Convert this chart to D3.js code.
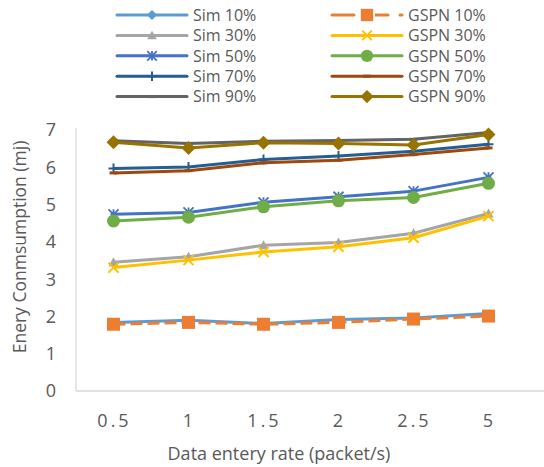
<!doctype html>
<html>
<head>
<meta charset="utf-8">
<script src="https://d3js.org/d3.v7.min.js"></script>
<style>
  body { margin: 0; background: #fff; }
  text { font-family: "Open Sans", "Liberation Sans", sans-serif; fill: #595959; }
</style>
</head>
<body>
<div id="chart"></div>
<script>
// data
var rates = ["0.5", "1", "1.5", "2", "2.5", "5"];
var seriesNames = ["Sim 10%", "GSPN 10%", "Sim 30%", "GSPN 30%", "Sim 50%", "GSPN 50%", "Sim 70%", "GSPN 70%", "Sim 90%", "GSPN 90%"];
var sim10  = [1.84, 1.90, 1.81, 1.92, 1.96, 2.08];
var gspn10 = [1.79, 1.84, 1.79, 1.84, 1.93, 2.01];
var sim30  = [3.45, 3.60, 3.91, 3.98, 4.23, 4.76];
var gspn30 = [3.31, 3.51, 3.73, 3.87, 4.11, 4.69];
var sim50  = [4.74, 4.79, 5.06, 5.21, 5.36, 5.73];
var gspn50 = [4.56, 4.66, 4.94, 5.10, 5.19, 5.57];
var sim70  = [5.97, 6.01, 6.21, 6.30, 6.43, 6.62];
var gspn70 = [5.85, 5.91, 6.12, 6.19, 6.34, 6.52];
var sim90  = [6.71, 6.64, 6.70, 6.72, 6.75, 6.93];
var gspn90 = [6.67, 6.52, 6.66, 6.64, 6.60, 6.88];
var yTicks = [0, 1, 2, 3, 4, 5, 6, 7];

var series = [
  {name: seriesNames[0], values: sim10,  color: "#5B9BD5", marker: "diamond", size: 5},
  {name: seriesNames[1], values: gspn10, color: "#ED7D31", marker: "square", size: 13, dash: "12,5"},
  {name: seriesNames[2], values: sim30,  color: "#A5A5A5", marker: "triangle", size: 10},
  {name: seriesNames[3], values: gspn30, color: "#FFC000", marker: "x", size: 10},
  {name: seriesNames[4], values: sim50,  color: "#4472C4", marker: "star", size: 10},
  {name: seriesNames[5], values: gspn50, color: "#70AD47", marker: "circle", size: 13},
  {name: seriesNames[6], values: sim70,  color: "#255E91", marker: "plus", size: 10},
  {name: seriesNames[7], values: gspn70, color: "#9E480E", marker: "dash", size: 8},
  {name: seriesNames[8], values: sim90,  color: "#636363", marker: "dash", size: 8},
  {name: seriesNames[9], values: gspn90, color: "#997300", marker: "diamond", size: 14}
];

var W = 544, H = 467;
var svg = d3.select("#chart").append("svg").attr("width", W).attr("height", H);

var x = d3.scaleBand().domain(rates).range([76, 526]);
var y = d3.scaleLinear().domain([0, 7]).range([391, 130]);
function cx(d, i) { return x(rates[i]) + x.bandwidth() / 2; }

// plot frame
svg.append("line").attr("x1", 76).attr("x2", 76).attr("y1", 128).attr("y2", 391)
  .attr("stroke", "#d9d9d9").attr("stroke-width", 1.3);
svg.append("line").attr("x1", 76).attr("x2", 544).attr("y1", 391).attr("y2", 391)
  .attr("stroke", "#d9d9d9").attr("stroke-width", 1.3);

// y ticks
svg.append("g").selectAll("text").data(yTicks).enter().append("text")
  .attr("x", 56).attr("y", function(d) { return y(d); }).attr("dy", "0.36em")
  .attr("text-anchor", "end").style("font-size", "18px").text(function(d) { return d; });

// x ticks
svg.append("g").selectAll("text").data(rates).enter().append("text")
  .attr("x", function(d) { return x(d) + x.bandwidth() / 2 + 1; }).attr("y", 427)
  .attr("text-anchor", "middle").style("font-size", "18px").style("letter-spacing", "3px")
  .text(function(d) { return d; });

// axis titles
svg.append("text").attr("x", 279).attr("y", 460).attr("text-anchor", "middle")
  .style("font-size", "18px").text("Data entery rate (packet/s)");
svg.append("text").attr("transform", "translate(26,247) rotate(-90)").attr("text-anchor", "middle")
  .style("font-size", "17.5px").text("Enery Conmsumption (mj)");

function drawMarker(g, s, px, py, scale) {
  var r = s.size / 2 * (scale || 1);
  if (s.marker === "diamond") {
    g.append("path").attr("d", "M" + px + "," + (py - r) + "L" + (px + r) + "," + py + "L" + px + "," + (py + r) + "L" + (px - r) + "," + py + "Z")
      .attr("fill", s.color);
  } else if (s.marker === "square") {
    g.append("rect").attr("x", px - r).attr("y", py - r).attr("width", 2 * r).attr("height", 2 * r).attr("fill", s.color);
  } else if (s.marker === "triangle") {
    g.append("path").attr("d", "M" + px + "," + (py - r) + "L" + (px + r) + "," + (py + r * 0.8) + "L" + (px - r) + "," + (py + r * 0.8) + "Z")
      .attr("fill", s.color);
  } else if (s.marker === "circle") {
    g.append("circle").attr("cx", px).attr("cy", py).attr("r", r).attr("fill", s.color);
  } else if (s.marker === "x") {
    g.append("path").attr("d", "M" + (px - r) + "," + (py - r) + "L" + (px + r) + "," + (py + r) + "M" + (px + r) + "," + (py - r) + "L" + (px - r) + "," + (py + r))
      .attr("stroke", s.color).attr("stroke-width", 2);
  } else if (s.marker === "star") {
    g.append("path").attr("d", "M" + px + "," + (py - r) + "L" + px + "," + (py + r) +
      "M" + (px - r) + "," + (py - r) + "L" + (px + r) + "," + (py + r) +
      "M" + (px + r) + "," + (py - r) + "L" + (px - r) + "," + (py + r) +
      "M" + (px - r * 0.6) + "," + py + "L" + (px + r * 0.6) + "," + py)
      .attr("stroke", s.color).attr("stroke-width", 1.8);
  } else if (s.marker === "plus") {
    g.append("path").attr("d", "M" + px + "," + (py - r) + "L" + px + "," + (py + r) + "M" + (px - r) + "," + py + "L" + (px + r) + "," + py)
      .attr("stroke", s.color).attr("stroke-width", 2);
  } else if (s.marker === "dash") {
    g.append("path").attr("d", "M" + (px - r) + "," + py + "L" + (px + r) + "," + py)
      .attr("stroke", s.color).attr("stroke-width", 3);
  }
}

var line = d3.line().x(cx).y(function(d) { return y(d); });

series.forEach(function(s) {
  var g = svg.append("g");
  g.append("path").datum(s.values).attr("d", line).attr("fill", "none")
    .attr("stroke", s.color).attr("stroke-width", 3).attr("stroke-dasharray", s.dash || null)
    .attr("stroke-linejoin", "round");
  s.values.forEach(function(v, i) { drawMarker(g, s, cx(v, i), y(v)); });
});

// legend
var legend = svg.append("g");
series.forEach(function(s, i) {
  var col = i % 2, row = Math.floor(i / 2);
  var lx = col === 0 ? 117 : 332, ly = 15 + row * 20.4;
  var g = legend.append("g");
  g.append("line").attr("x1", lx).attr("x2", lx + 70).attr("y1", ly).attr("y2", ly)
    .attr("stroke", s.color).attr("stroke-width", 3).attr("stroke-linecap", "round")
    .attr("stroke-dasharray", s.dash ? "22,12" : null);
  if (s.marker === "square") {
    g.append("rect").attr("x", lx + 27).attr("y", ly - 8).attr("width", 16).attr("height", 16).attr("fill", "#fff");
  }
  drawMarker(g, s, lx + 35, ly, s.marker === "diamond" && s.size < 8 ? 2 : 0.95);
  g.append("text").attr("x", lx + 76).attr("y", ly).attr("dy", "0.36em")
    .style("font-size", "16px").text(s.name);
});
</script>
</body>
</html>
